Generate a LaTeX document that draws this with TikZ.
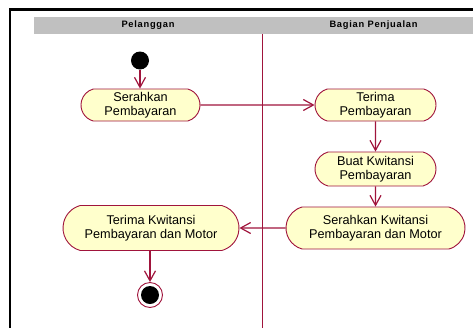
\documentclass[tikz,border=0pt]{standalone}
\usepackage{fontspec}
\setmainfont{Liberation Sans}
\newfontfamily\laneheadfont[LetterSpace=8]{Liberation Sans}
\usetikzlibrary{arrows.meta,shapes.misc}
\definecolor{flow}{HTML}{A0143C}
\definecolor{actfill}{HTML}{FFFFCC}
\definecolor{lanegray}{HTML}{C0C0C0}
\begin{document}
\begin{tikzpicture}[x=1pt,y=-1pt,
  activity/.style={rounded rectangle, rounded rectangle arc length=150,
    draw=flow, fill=actfill, line width=0.9pt, inner sep=0pt, align=center,
    font=\fontsize{12.7}{13.5}\selectfont},
  flowline/.style={draw=flow, line width=1.2pt,
    -{Straight Barb[length=10pt,width=11pt,line width=1.2pt]}},
  lanehead/.style={font=\laneheadfont\fontsize{9.3}{10}\selectfont\bfseries}]
\useasboundingbox (0,0) rectangle (473,327);
% swimlane frame and headers
\fill[lanegray] (34,17) rectangle (480,34);
\draw[line width=2.5pt] (10,340) -- (10,9.3) -- (480,9.3);
\draw[flow, line width=1pt] (262,34) -- (262,335);
\node[lanehead] (lane1) at (148,25.5) {Pelanggan};
\node[lanehead] (lane2) at (373.5,25.5) {Bagian Penjualan};
% activities
\node[circle, fill=black, minimum size=18pt, inner sep=0pt] (start) at (140,60.5) {};
\node[activity, minimum width=119pt, minimum height=32pt] (a1) at (140.5,105) {Serahkan\\Pembayaran};
\node[activity, minimum width=121pt, minimum height=32pt] (a2) at (375.5,105) {Terima\\Pembayaran};
\node[activity, minimum width=121pt, minimum height=34pt] (a3) at (375.5,169) {Buat Kwitansi\\Pembayaran};
\node[activity, minimum width=179pt, minimum height=42pt] (a4) at (375.5,228) {Serahkan Kwitansi\\Pembayaran dan Motor};
\node[activity, minimum width=176pt, minimum height=45pt] (a5) at (151,228) {Terima Kwitansi\\Pembayaran dan Motor};
\node[circle, draw=flow, fill=white, line width=0.9pt, minimum size=25pt, inner sep=0pt] (end) at (150,295) {};
\fill[black] (end.center) circle (9pt);
% control flow
\draw[flowline] (start) -- (start |- a1.north);
\draw[flowline] (a1) -- (a2);
\draw[flowline] (a2) -- (a3);
\draw[flowline] (a3) -- (a4);
\draw[flowline] (a4) -- (a5);
\draw[flowline] (a5.south -| end.north) -- (end.north);
\end{tikzpicture}
\end{document}
